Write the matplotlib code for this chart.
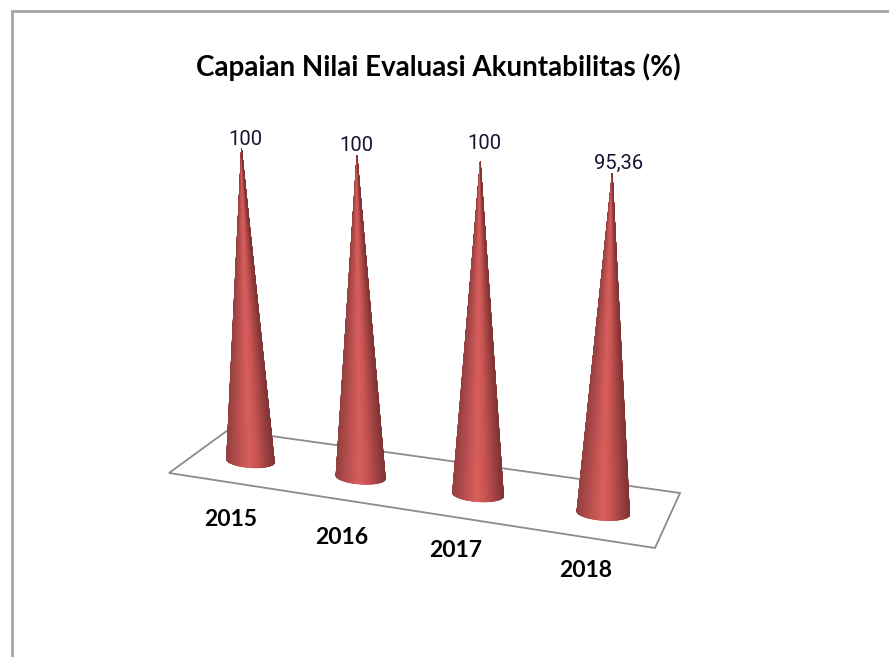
import numpy as np
import matplotlib
matplotlib.use("Agg")
import matplotlib.pyplot as plt
from matplotlib.collections import PolyCollection
from matplotlib.colors import LinearSegmentedColormap
from matplotlib.patches import Polygon

years = ["2015", "2016", "2017", "2018"]
values = [100, 100, 100, 95.36]
title = "Capaian Nilai Evaluasi Akuntabilitas (%)"

# floor corners in picture pixels: front-left, front-right, back-right, back-left
floor = [(169, 473), (655, 548), (680, 493), (228, 430)]
vanish = (435, 6832)  # where the cone axes meet, they lean apart going up

# small hand corrections per category
height_fix = [1, 1, 1, 1.035]
label_nudge = [(4, 1), (-1, 0), (4, -9), (6, -1)]
tick_nudge = [(53, 7), (46, 5), (33, -3), (27, -5)]

# ----- floor projection -----
src = [(0, 0), (1, 0), (1, 1), (0, 1)]
A = []
b = []
for (u, v), (x, y) in zip(src, floor):
    A.append([u, v, 1, 0, 0, 0, -u * x, -v * x])
    A.append([0, 0, 0, u, v, 1, -u * y, -v * y])
    b += [x, y]
H = np.append(np.linalg.solve(np.array(A, float), np.array(b, float)), 1).reshape(3, 3)


def project(u, v):
    p = H @ np.array([u, v, 1.0])
    return p[0] / p[2], p[1] / p[2], 1 / p[2]


shade = LinearSegmentedColormap.from_list(
    "cone", ["#94403f", "#ac4a49", "#c45454", "#d95f5c", "#c85453", "#a64444", "#823535"]
)

fig = plt.figure(figsize=(8.89, 6.57), dpi=100)
ax = fig.add_axes([0, 0, 1, 1])
ax.set_xlim(0, 889)
ax.set_ylim(657, 0)
ax.axis("off")

# frame of the pasted chart, cut off right and bottom
ax.plot([12, 12, 889], [657, 11, 11], color="#a6a6a6", lw=2, solid_joinstyle="miter")

ax.add_patch(Polygon(floor, closed=True, fill=True, facecolor="white", edgecolor="#8c8c8c", lw=1.3, zorder=1))

for i, (year, val) in enumerate(zip(years, values)):
    u = (i + 0.5) / len(years)
    bx, by, depth = project(u, 0.42)
    bx += 3
    by -= 1
    height = val * 3.12 * depth / project(0.125, 0.42)[2] * height_fix[i]
    lean = (vanish[0] - bx) / (vanish[1] - by)
    tx = bx - lean * height
    ty = by - height

    rx = 24 * depth / project(0.125, 0.42)[2]
    ry = rx * 0.28
    tilt = 0.07
    theta = np.linspace(np.pi, 0, 181)
    ex = rx * np.cos(theta)
    ey = ry * np.sin(theta)
    arc_x = bx + ex * np.cos(tilt) - ey * np.sin(tilt)
    arc_y = by + ex * np.sin(tilt) + ey * np.cos(tilt)

    polys = []
    cols = []
    for k in range(len(theta) - 1):
        polys.append([(arc_x[k], arc_y[k]), (arc_x[k + 1], arc_y[k + 1]), (tx, ty)])
        cols.append(shade((ex[k] + ex[k + 1]) / (4 * rx) + 0.5))
    ax.add_collection(PolyCollection(polys, facecolors=cols, edgecolors=cols, linewidths=0.5, zorder=3))

    ax.text(tx + label_nudge[i][0], ty - 10 + label_nudge[i][1], f"{val:g}".replace(".", ","),
            ha="center", va="center", fontsize=14.5, color="#1c1030",
            family=["Roboto", "DejaVu Sans"], zorder=5)

    lx, ly, _ = project(u, -0.62)
    ax.text(lx - 6 + tick_nudge[i][0], ly + tick_nudge[i][1], year, ha="center", va="center",
            fontsize=16.5, fontweight="bold", color="black", family=["Lato", "DejaVu Sans"], zorder=5)

ax.text(438, 67, title, ha="center", va="center", fontsize=20, fontweight="bold",
        color="black", family=["Lato", "DejaVu Sans"])

fig.savefig("out.png", dpi=100, facecolor="white")
